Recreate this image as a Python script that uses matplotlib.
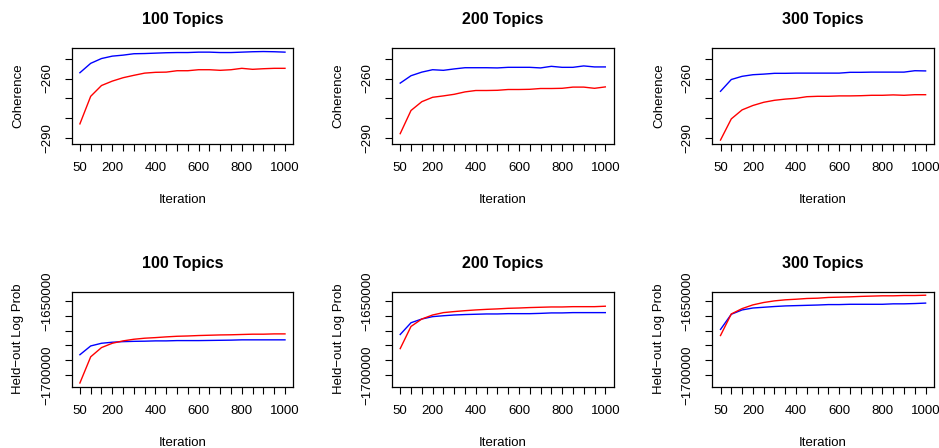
import matplotlib
matplotlib.use("Agg")
import matplotlib.pyplot as plt
import numpy as np

plt.rcParams["font.family"] = ["Liberation Sans", "DejaVu Sans"]

ITER = [50, 100, 150, 200, 250, 300, 350, 400, 450, 500,
        550, 600, 650, 700, 750, 800, 850, 900, 950, 1000]
TOPICS = ["100 Topics", "200 Topics", "300 Topics"]

# coherence (blue / red) per topic count
coh_100_blue = [-257.1, -252.4, -250.0, -248.8, -248.3, -247.6, -247.5, -247.3, -247.1, -247.0,
                -247.0, -246.8, -246.8, -247.0, -247.0, -246.8, -246.6, -246.5, -246.6, -246.8]
coh_100_red = [-282.7, -268.9, -263.5, -261.3, -259.6, -258.4, -257.3, -256.9, -256.8, -256.1,
               -256.1, -255.6, -255.6, -255.9, -255.6, -254.9, -255.4, -255.1, -254.9, -254.9]
coh_200_blue = [-262.3, -258.6, -256.8, -255.6, -255.9, -255.2, -254.6, -254.6, -254.6, -254.7,
                -254.4, -254.4, -254.4, -254.7, -253.9, -254.4, -254.4, -253.7, -254.2, -254.2]
coh_200_red = [-287.6, -276.0, -271.6, -269.4, -268.7, -267.9, -266.7, -266.0, -266.0, -265.9,
               -265.5, -265.5, -265.4, -265.0, -265.0, -264.9, -264.3, -264.3, -264.9, -264.2]
coh_300_blue = [-266.4, -260.5, -258.9, -258.1, -257.8, -257.4, -257.4, -257.3, -257.3, -257.3,
                -257.3, -257.3, -256.9, -256.9, -256.8, -256.8, -256.8, -256.8, -256.1, -256.2]
coh_300_red = [-290.8, -280.2, -275.7, -273.5, -271.9, -270.9, -270.3, -269.9, -269.1, -268.9,
               -268.9, -268.7, -268.7, -268.6, -268.4, -268.4, -268.2, -268.4, -268.1, -268.1]

# held-out log prob (blue / red) per topic count
lp_100_blue = [-1686200, -1680300, -1678500, -1677800, -1677400, -1677200, -1677100, -1676900, -1676900, -1676700,
               -1676700, -1676700, -1676600, -1676500, -1676400, -1676200, -1676200, -1676200, -1676200, -1676200]
lp_100_red = [-1705200, -1687600, -1681400, -1678500, -1676900, -1675800, -1675100, -1674700, -1674200, -1673800,
              -1673600, -1673300, -1673100, -1672900, -1672800, -1672600, -1672400, -1672400, -1672200, -1672200]
lp_200_blue = [-1672600, -1664700, -1662200, -1660600, -1660000, -1659500, -1659200, -1659000, -1658800, -1658800,
               -1658600, -1658600, -1658600, -1658400, -1658100, -1658100, -1657900, -1657900, -1657900, -1657900]
lp_200_red = [-1682100, -1667200, -1662200, -1659500, -1657900, -1657200, -1656600, -1656100, -1655700, -1655400,
              -1655000, -1654800, -1654500, -1654300, -1654100, -1654100, -1653900, -1653900, -1653900, -1653600]
lp_300_blue = [-1669200, -1659000, -1656100, -1654800, -1654300, -1653800, -1653400, -1653200, -1653000, -1652800,
               -1652500, -1652500, -1652300, -1652300, -1652300, -1652300, -1652000, -1652000, -1651800, -1651500]
lp_300_red = [-1673300, -1658800, -1655200, -1652700, -1651100, -1650000, -1649300, -1648900, -1648400, -1648200,
              -1647700, -1647500, -1647300, -1647000, -1646800, -1646600, -1646600, -1646400, -1646400, -1646200]

COH = [(coh_100_blue, coh_100_red), (coh_200_blue, coh_200_red), (coh_300_blue, coh_300_red)]
LP = [(lp_100_blue, lp_100_red), (lp_200_blue, lp_200_red), (lp_300_blue, lp_300_red)]

X_LABELED = [50, 200, 400, 600, 800, 1000]
COH_TICKS = [-290, -280, -270, -260, -250]
COH_LABELED = [-290, -260]
LP_TICKS = [-1700000, -1690000, -1680000, -1670000, -1660000, -1650000]
LP_LABELED = [-1700000, -1650000]

W, H = 939, 448
fig = plt.figure(figsize=(W / 100, H / 100), dpi=100)

def r_range(vals):
    lo, hi = min(vals), max(vals)
    d = (hi - lo) * 0.04
    return lo - d, hi + d

coh_lim = r_range([v for pair in COH for s in pair for v in s])
lp_lim = r_range([v for pair in LP for s in pair for v in s])
x_lim = r_range(ITER)

lefts = [71.7, 392.0, 712.3]
rows = [(48.0, 143.6), (291.7, 386.5)]

def fmt(v):
    return ("\u2212%d" % -v) if v < 0 else "%d" % v

for r, (data, ylab, lim, ticks, labeled) in enumerate([
        (COH, "Coherence", coh_lim, COH_TICKS, COH_LABELED),
        (LP, "Held\u2212out Log Prob", lp_lim, LP_TICKS, LP_LABELED)]):
    top, bot = rows[r]
    for c in range(3):
        ax = fig.add_axes([lefts[c] / W, 1 - bot / H, 221.5 / W, (bot - top) / H])
        blue, red = data[c]
        ax.plot(ITER, blue, color="#0000FF", lw=1.0)
        ax.plot(ITER, red, color="#FF0000", lw=1.0)
        ax.set_xlim(x_lim); ax.set_ylim(lim)
        ax.set_xticks(ITER)
        ax.set_xticklabels([str(v) if v in X_LABELED else "" for v in ITER])
        ax.set_yticks(ticks)
        ax.set_yticklabels([fmt(v) if v in labeled else "" for v in ticks],
                           rotation=90, va="center")
        ax.tick_params(length=5, width=0.8, labelsize=9.5, pad=8.5, color="black")
        for s in ax.spines.values():
            s.set_linewidth(0.9)
        ax.set_title(TOPICS[c], fontsize=11.5, fontweight="bold", pad=17)
        ax.set_xlabel("Iteration", fontsize=9.5, labelpad=14)
        ax.set_ylabel(ylab, fontsize=9.5, labelpad=12)

fig.savefig("out.png", dpi=100)
